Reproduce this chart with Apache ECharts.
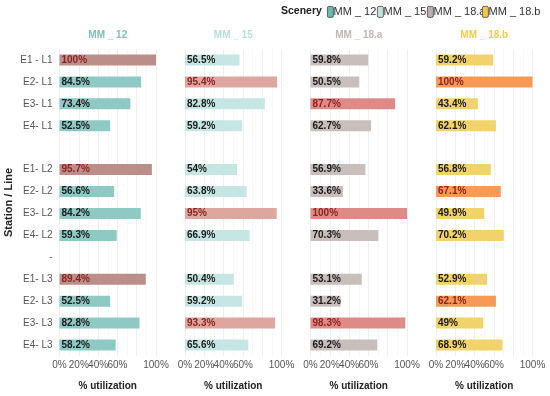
<!DOCTYPE html>
<html>
<head>
<meta charset="utf-8">
<script src="https://cdn.jsdelivr.net/npm/echarts@6/dist/echarts.min.js"></script>
<style>
html,body{margin:0;padding:0;background:#fff;}
#chart{width:550px;height:396px;}
</style>
</head>
<body>
<div id="chart"></div>
<script>
// ---- data ----
var categories = ['E1 - L1','E2- L1','E3- L1','E4- L1','','E1- L2','E2- L2','E3- L2','E4- L2','-','E1- L3','E2- L3','E3- L3','E4- L3'];
var scenarios = ['MM _ 12','MM _ 15','MM _ 18.a','MM _ 18.b'];
var mm12  = [100, 84.5, 73.4, 52.5, null, 95.7, 56.6, 84.2, 59.3, null, 89.4, 52.5, 82.8, 58.2];
var mm15  = [56.5, 95.4, 82.8, 59.2, null, 54, 63.8, 95, 66.9, null, 50.4, 59.2, 93.3, 65.6];
var mm18a = [59.8, 50.5, 87.7, 62.7, null, 56.9, 33.6, 100, 70.3, null, 53.1, 31.2, 98.3, 69.2];
var mm18b = [59.2, 100, 43.4, 62.1, null, 56.8, 67.1, 49.9, 70.2, null, 52.9, 62.1, 49, 68.9];
// highlighted (peak) rows per scenario
var hi12  = ['E1 - L1','E1- L2','E1- L3'];
var hi15  = ['E2- L1','E3- L2','E3- L3'];
var hi18a = ['E3- L1','E3- L2','E3- L3'];
var hi18b = ['E2- L1','E2- L2','E2- L3'];
var xTicks = [0, 20, 40, 60, 80, 100];

// ---- styles ----
var values = [mm12, mm15, mm18a, mm18b];
var highlights = [hi12, hi15, hi18a, hi18b];
var baseColors = ['#8ec9c3', '#c5e6e2', '#c8bfbd', '#f2d36b'];
var hiColors   = ['#bc8e89', '#dfa59f', '#de8b87', '#f59b55'];
var titleColors = ['#7fc1b9', '#b4dfda', '#c0b6b4', '#f0cb50'];
var legendColors = ['#6fb8b0', '#bfe3df', '#bab0ae', '#f2c842'];
var legendLeft = [327, 377, 427, 482];
var FONT = 'Liberation Sans, Arial, sans-serif';

var panelLeft0 = 59.5, panelStep = 125.5, panelW = 96.5;
var gridTop = 49, gridH = 308;

var option = {
  animation: false,
  textStyle: {fontFamily: FONT},
  title: [],
  graphic: [],
  grid: [], xAxis: [], yAxis: [], series: []
};

option.title.push({
  text: 'Scenery', left: 281, top: 6, padding: 0,
  textStyle: {fontSize: 10.5, fontWeight: 'bold', color: '#222', fontFamily: FONT}
});

for (var i = 0; i < 4; i++) {
  var left = panelLeft0 + i * panelStep;
  option.grid.push({left: left, top: gridTop, width: panelW, height: gridH});
  option.title.push({
    text: scenarios[i], left: left + panelW / 2, top: 30, textAlign: 'center', padding: 0,
    textStyle: {fontSize: 10, fontWeight: 'bold', color: titleColors[i], fontFamily: FONT}
  });
  // legend key
  option.graphic.push({
    type: 'rect', left: legendLeft[i], top: 6, z: 10,
    shape: {width: 6, height: 11, r: 1.5},
    style: {fill: legendColors[i], stroke: '#444', lineWidth: 0.8}
  });
  option.graphic.push({
    type: 'text', left: legendLeft[i] + 6.5, top: 6, z: 9,
    style: {text: scenarios[i], fontSize: 11, fill: '#333', fontFamily: FONT}
  });
  option.xAxis.push({
    type: 'value', gridIndex: i, min: xTicks[0], max: xTicks[xTicks.length - 1], interval: 20,
    axisLine: {show: false}, axisTick: {show: false},
    axisLabel: {
      formatter: '{value}%', fontSize: 10, color: '#555', fontFamily: FONT,
      margin: 4, padding: [0, -6, 0, -6],
      showMinLabel: true, showMaxLabel: true, hideOverlap: false
    },
    splitLine: {show: true, lineStyle: {color: '#ebebeb', width: 0.8}},
    minorTick: {show: false, splitNumber: 2},
    minorSplitLine: {show: true, lineStyle: {color: '#f3f3f3', width: 0.6}},
    name: '% utilization', nameLocation: 'middle', nameGap: 25,
    nameTextStyle: {fontSize: 10, fontWeight: 'bold', color: '#222', fontFamily: FONT}
  });
  var ya = {
    type: 'category', gridIndex: i, data: categories, inverse: true,
    axisLine: {show: false}, axisTick: {show: false},
    splitLine: {show: false},
    axisLabel: {show: i === 0, fontSize: 10, color: '#555', margin: 7, interval: 0, fontFamily: FONT}
  };
  if (i === 0) {
    ya.name = 'Station / Line';
    ya.nameLocation = 'middle';
    ya.nameGap = 45;
    ya.nameRotate = 90;
    ya.nameTextStyle = {fontSize: 11, fontWeight: 'bold', color: '#222', fontFamily: FONT};
  }
  option.yAxis.push(ya);

  (function (idx) {
    option.series.push({
      name: scenarios[idx], type: 'bar', xAxisIndex: idx, yAxisIndex: idx,
      barWidth: 11, itemStyle: {color: baseColors[idx]},
      data: values[idx].map(function (v, k) {
        if (v === null) return '-';
        var isHi = highlights[idx].indexOf(categories[k]) >= 0;
        return {
          value: v,
          itemStyle: {color: isHi ? hiColors[idx] : baseColors[idx]},
          label: {color: isHi ? '#8a2424' : '#1a1a1a'}
        };
      }),
      label: {
        show: true, position: 'insideLeft', distance: 2,
        fontSize: 10, fontWeight: 'bold', fontFamily: FONT,
        formatter: function (p) { return p.value + '%'; }
      }
    });
  })(i);
}

var chart = echarts.init(document.getElementById('chart'), null, {renderer: 'canvas'});
chart.setOption(option);
</script>
</body>
</html>
